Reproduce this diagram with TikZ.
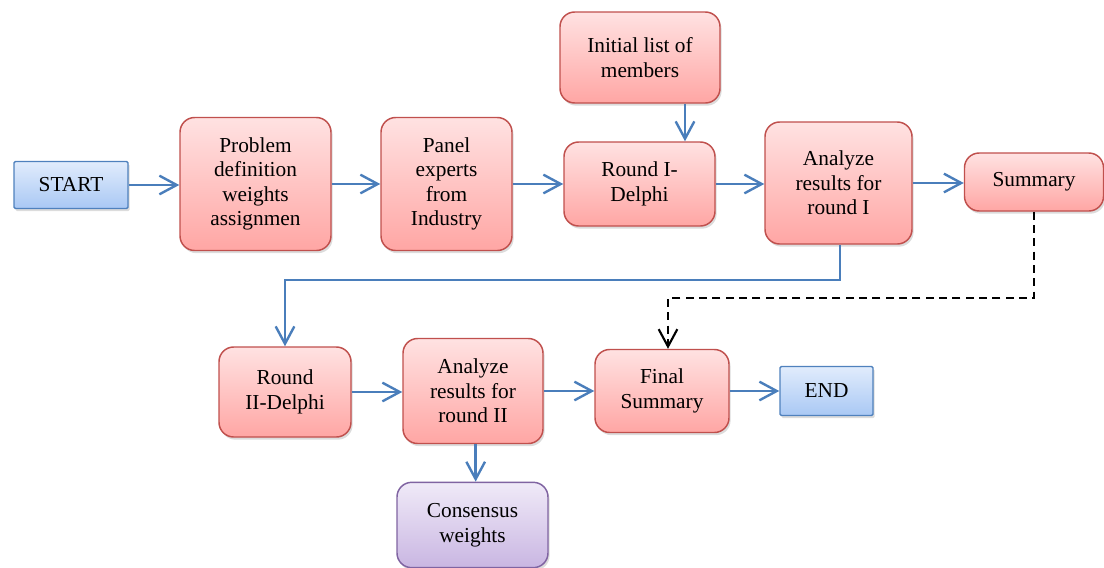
\documentclass[tikz,border=0pt]{standalone}
\usepackage{fontspec}
\setmainfont{Liberation Serif}
\usetikzlibrary{arrows.meta,shadows,calc}

\definecolor{redtop}{HTML}{FFE2E2}
\definecolor{redbot}{HTML}{FFA6A4}
\definecolor{redline}{HTML}{C0504D}
\definecolor{bluetop}{HTML}{E1ECFC}
\definecolor{bluebot}{HTML}{A9C8F4}
\definecolor{blueline}{HTML}{4F81BD}
\definecolor{purtop}{HTML}{F0EAF8}
\definecolor{purbot}{HTML}{C9B6E2}
\definecolor{purline}{HTML}{8064A2}
\definecolor{flow}{HTML}{4A7EBB}

\tikzset{
  box/.style={align=center, inner sep=2pt, line width=1.1pt,
    font=\fontsize{16}{18.4}\selectfont,
    drop shadow={opacity=0.28, shadow xshift=1.2pt, shadow yshift=-2pt}},
  redbox/.style={box, rounded corners=11pt, draw=redline,
    top color=redtop, bottom color=redbot},
  bluebox/.style={box, rounded corners=1pt, draw=blueline,
    top color=bluetop, bottom color=bluebot},
  purbox/.style={box, rounded corners=11pt, draw=purline,
    top color=purtop, bottom color=purbot},
  flowline/.style={draw=flow, line width=1.8pt,
    -{Straight Barb[length=13pt,width=14pt,line width=1.8pt]}},
  backline/.style={draw=black, line width=1.6pt, dash pattern=on 6pt off 4pt,
    -{Straight Barb[length=13pt,width=14pt,line width=1.6pt]}},
}

\begin{document}
\begin{tikzpicture}[x=0.75pt,y=-0.75pt]
\useasboundingbox (0,0) rectangle (1104,568);

% first row
\node[bluebox, minimum width=85.5pt, minimum height=35.25pt] (start) at (71,185) {START};
\node[redbox, minimum width=113.25pt, minimum height=99.75pt] (prob) at (255.5,184) {Problem\\definition\\weights\\assignmen};
\node[redbox, minimum width=98.25pt, minimum height=99.75pt] (panel) at (446.5,184) {Panel\\experts\\from\\Industry};
\node[redbox, minimum width=120pt, minimum height=68.25pt] (init) at (640,57.5) {Initial list of\\members};
\node[redbox, minimum width=113.25pt, minimum height=63pt] (r1) at (639.5,184) {Round I-\\Delphi};
\node[redbox, minimum width=110.25pt, minimum height=91.5pt] (a1) at (838.5,183) {Analyze\\results for\\round I};
\node[redbox, minimum width=104.25pt, minimum height=43.5pt] (sum) at (1034,182) {Summary};

% second row
\node[redbox, minimum width=99pt, minimum height=67.5pt] (r2) at (285,392) {Round\\II-Delphi};
\node[redbox, minimum width=105pt, minimum height=78.75pt] (a2) at (473,391) {Analyze\\results for\\round II};
\node[redbox, minimum width=100.5pt, minimum height=62.25pt] (fin) at (662,391) {Final\\Summary};
\node[bluebox, minimum width=69.75pt, minimum height=36.75pt] (end) at (826.5,391) {END};
\node[purbox, minimum width=113.25pt, minimum height=64pt] (cons) at (472.5,525) {Consensus\\weights};

% routing points
\coordinate (drop1) at (0,280);
\coordinate (drop2) at (0,298);
\coordinate (inx) at (685,0);
\coordinate (finx) at (668,0);

% connectors
\draw[flowline] (start) -- (prob.west |- start);
\draw[flowline] (prob) -- (panel);
\draw[flowline] (panel) -- (r1);
\draw[flowline] (init.south -| inx) -- (r1.north -| inx);
\draw[flowline] (r1) -- (a1.west |- r1);
\draw[flowline] (a1) -- (sum.west |- a1);
\draw[flowline] ([xshift=1pt]a1.south) -- ([xshift=1pt]a1.south |- drop1) -| (r2.north);
\draw[backline] (sum.south) -- (sum.south |- drop2) -| (fin.north -| finx);
\draw[flowline] (r2) -- (a2.west |- r2);
\draw[flowline] (a2) -- (fin);
\draw[flowline] (fin) -- (end);
\draw[flowline] ([xshift=2pt]a2.south) -- ([xshift=2pt]a2.south |- cons.north);
\end{tikzpicture}
\end{document}
